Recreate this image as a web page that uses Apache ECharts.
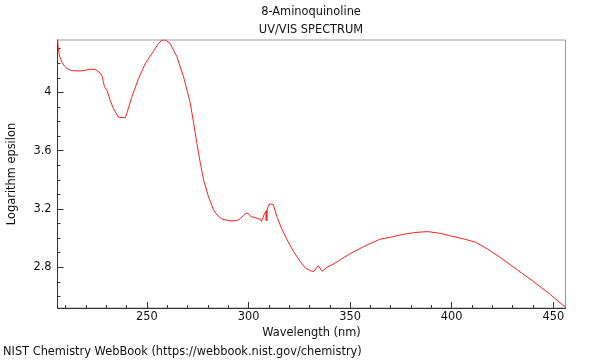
<!DOCTYPE html>
<html>
<head>
<meta charset="utf-8">
<script src="https://cdn.jsdelivr.net/npm/echarts@6/dist/echarts.min.js"></script>
<style>html,body{margin:0;padding:0;background:#fff}#c{width:600px;height:360px}</style>
</head>
<body>
<div id="c"></div>
<script>
var wavelength = [206.1,206.4,207.0,208.1,209.5,210.6,212.5,214.7,218.0,220.5,222.1,224.5,227.0,228.0,228.4,228.6,229.1,230.5,231.1,231.9,233.5,236.0,236.8,239.3,240.1,242.6,245.9,249.2,252.5,255.7,257.4,259.0,261.5,264.8,268.0,271.3,273.0,274.6,276.3,277.9,280.3,282.8,284.5,286.9,291.0,294.3,296.0,298.4,299.6,301.2,304.2,305.8,306.4,307.8,308.6,308.7,308.9,309.0,309.2,309.9,311.0,312.2,314.0,316.2,319.0,322.2,325.5,328.0,330.4,332.1,333.4,334.3,335.1,336.2,338.7,341.9,345.2,350.1,356.7,364.6,369.9,376.4,382.0,388.0,394.5,399.4,406.0,411.7,417.5,424.0,432.3,440.4,448.7,456.1];
var logEpsilon = [4.36,4.30,4.25,4.21,4.18,4.165,4.152,4.148,4.148,4.155,4.16,4.158,4.134,4.11,4.10,4.07,4.04,4.01,4.0,3.947,3.89,3.83,3.82,3.826,3.856,3.97,4.096,4.199,4.267,4.336,4.36,4.36,4.336,4.244,4.11,3.93,3.79,3.65,3.513,3.40,3.284,3.193,3.159,3.13,3.118,3.12,3.134,3.168,3.172,3.147,3.136,3.13,3.115,3.165,3.185,3.12,3.19,3.12,3.195,3.228,3.234,3.23,3.147,3.068,2.988,2.907,2.839,2.794,2.777,2.77,2.794,2.81,2.795,2.772,2.80,2.823,2.852,2.893,2.942,2.992,3.006,3.027,3.038,3.045,3.032,3.015,2.994,2.972,2.926,2.866,2.782,2.70,2.611,2.522];
var xMajorTicks = [250,300,350,400,450];
var xMinorTicks = [210,220,230,240,260,270,280,290,310,320,330,340,360,370,380,390,410,420,430,440];
var yMajorTicks = [2.8,3.2,3.6,4];
var yMinorTicks = [2.6,2.7,2.9,3.0,3.1,3.3,3.4,3.5,3.7,3.8,3.9,4.1,4.2,4.3];
var titleLines = ['8-Aminoquinoline','UV/VIS SPECTRUM'];
var xName = 'Wavelength (nm)';
var yName = 'Logarithm epsilon';
var footer = 'NIST Chemistry WebBook (https://webbook.nist.gov/chemistry)';

var X_MIN = 206, X_MAX = 456, Y_MIN = 2.52, Y_MAX = 4.36;
var FONT = 'DejaVu Sans';
var FS = 11.4;
var data = wavelength.map(function(w,i){return [w, logEpsilon[i]];});

var chart = echarts.init(document.getElementById('c'), null, {renderer:'canvas'});
chart.setOption({
  animation:false,
  backgroundColor:'#fff',
  textStyle:{fontFamily:FONT},
  grid:{left:57.5,right:34.5,top:40,bottom:52,show:true,borderColor:'#999',borderWidth:1,backgroundColor:'transparent',
        containLabel:false,outerBoundsMode:'none'},
  graphic:[
    {type:'text',x:311,y:7,style:{text:titleLines[0],fontFamily:FONT,fontSize:FS,fill:'#111',align:'center'},z:10},
    {type:'text',x:311,y:25,style:{text:titleLines[1],fontFamily:FONT,fontSize:FS,fill:'#111',align:'center'},z:10},
    {type:'text',x:3,y:347,style:{text:footer,fontFamily:FONT,fontSize:FS,fill:'#111',align:'left'},z:10}
  ],
  xAxis:[
    {type:'value',min:X_MIN,max:X_MAX,name:xName,nameLocation:'middle',nameGap:17,
     nameTextStyle:{fontFamily:FONT,fontSize:FS,color:'#111',padding:[0,0,0,0]},
     axisLine:{show:true,lineStyle:{color:'#333'}},
     axisTick:{show:true,inside:true,length:6,customValues:xMajorTicks,lineStyle:{color:'#333'}},
     axisLabel:{show:true,customValues:xMajorTicks,fontFamily:FONT,fontSize:FS,color:'#111',margin:4},
     splitLine:{show:false}},
    {type:'value',min:X_MIN,max:X_MAX,position:'bottom',
     axisLine:{show:false},
     axisTick:{show:true,inside:true,length:3,customValues:xMinorTicks,lineStyle:{color:'#333'}},
     axisLabel:{show:false},splitLine:{show:false}}
  ],
  yAxis:[
    {type:'value',min:Y_MIN,max:Y_MAX,name:yName,nameLocation:'middle',nameGap:40,
     nameTextStyle:{fontFamily:FONT,fontSize:FS,color:'#111'},
     axisLine:{show:true,lineStyle:{color:'#333'}},
     axisTick:{show:true,inside:true,length:6,customValues:yMajorTicks,lineStyle:{color:'#333'}},
     axisLabel:{show:true,customValues:yMajorTicks,fontFamily:FONT,fontSize:FS,color:'#111',margin:6},
     splitLine:{show:false}},
    {type:'value',min:Y_MIN,max:Y_MAX,position:'left',
     axisLine:{show:false},
     axisTick:{show:true,inside:true,length:3,customValues:yMinorTicks,lineStyle:{color:'#333'}},
     axisLabel:{show:false},splitLine:{show:false}}
  ],
  series:[{type:'line',data:data,showSymbol:false,symbol:'none',
    lineStyle:{color:'#ff2020',width:1},clip:true}]
});
</script>
</body>
</html>
